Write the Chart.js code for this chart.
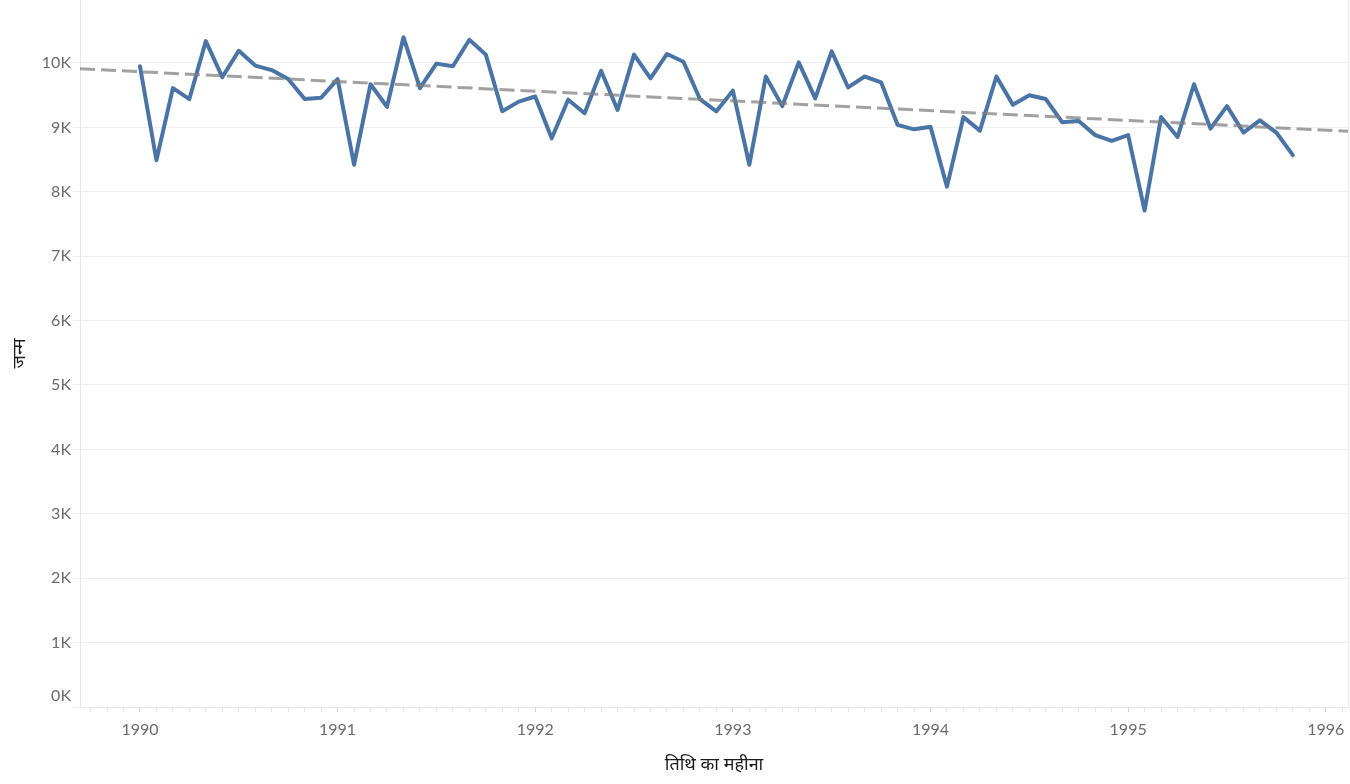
<!DOCTYPE html>
<html>
<head>
<meta charset="utf-8">
<script src="https://cdn.jsdelivr.net/npm/chart.js@4.4.1/dist/chart.umd.min.js"></script>
<style>
  html, body { margin: 0; padding: 0; background: #fff; overflow: hidden; }
  #myChart { display: block; }
</style>
</head>
<body>
<canvas id="myChart" width="1350" height="784" style="width:1350px;height:784px"></canvas>
<script>
// monthly births, Jan 1990 - Nov 1995
var startYear = 1990;
var births = [
    9950, 8490, 9610, 9440, 10340, 9780, 10190, 9960, 9890, 9750, 9440, 9460,
    9750, 8420, 9670, 9320, 10400, 9610, 9990, 9950, 10360, 10130, 9250, 9400,
    9480, 8830, 9430, 9220, 9880, 9270, 10130, 9760, 10140, 10020, 9440, 9250,
    9570, 8420, 9790, 9330, 10010, 9450, 10180, 9620, 9790, 9700, 9040, 8970,
    9010, 8080, 9160, 8950, 9790, 9350, 9500, 9440, 9080, 9100, 8880, 8790,
    8880, 7710, 9160, 8850, 9670, 8980, 9330, 8920, 9110, 8920, 8570
];
// trend line values at left and right edge of the axis
var trendValues = [9910, 8940];
var yearLabels = ['1990', '1991', '1992', '1993', '1994', '1995', '1996'];
var yTicks = [0, 1000, 2000, 3000, 4000, 5000, 6000, 7000, 8000, 9000, 10000];

var xMin = -3.64, xMax = 73.35;
var tickFont = { family: 'Lato, "Open Sans", sans-serif', size: 16 };
var titleFont = { family: '"Noto Sans", sans-serif', size: 18 };

var lineData = [];
for (var i = 0; i < births.length; i++) {
    lineData.push({ x: i, y: births[i] });
}
var trendData = [{ x: xMin, y: trendValues[0] }, { x: xMax, y: trendValues[1] }];

// right frame line + the bottom "0K" label, lifted above the axis like the original
var extras = {
    id: 'extras',
    afterDraw: function (chart) {
        var c = chart.ctx, a = chart.chartArea, ys = chart.scales.y;
        c.save();
        c.strokeStyle = '#e8e8e8';
        c.lineWidth = 1;
        c.beginPath();
        c.moveTo(a.right + 0.5, 0);
        c.lineTo(a.right + 0.5, a.bottom);
        c.stroke();
        c.fillStyle = '#6b6b6b';
        c.font = tickFont.size + 'px ' + tickFont.family;
        c.textAlign = 'right';
        c.textBaseline = 'middle';
        c.fillText('0K', ys.right - 9, ys.getPixelForValue(0) - 11);
        c.restore();
    }
};

var ctx = document.getElementById('myChart').getContext('2d');
var myChart = new Chart(ctx, {
    type: 'line',
    data: {
        datasets: [{
            label: 'trend',
            data: trendData,
            borderColor: 'rgba(125,125,125,0.72)',
            borderWidth: 3,
            borderDash: [15, 6],
            pointRadius: 0,
            order: 0
        }, {
            label: 'जन्म',
            data: lineData,
            borderColor: '#4b74a6',
            borderWidth: 4,
            borderJoinStyle: 'round',
            borderCapStyle: 'round',
            pointRadius: 0,
            tension: 0,
            order: 1
        }]
    },
    options: {
        responsive: false,
        animation: false,
        devicePixelRatio: 1,
        layout: { padding: { top: 0, right: 2, left: 0, bottom: 0 } },
        plugins: { legend: { display: false }, tooltip: { enabled: false } },
        scales: {
            x: {
                type: 'linear',
                min: xMin,
                max: xMax,
                afterBuildTicks: function (scale) {
                    var t = [];
                    for (var m = -3; m <= 73; m++) t.push({ value: m });
                    scale.ticks = t;
                },
                afterFit: function (scale) {
                    scale.height = 77;
                    scale.paddingLeft = 0;
                    scale.paddingRight = 0;
                },
                ticks: {
                    autoSkip: false,
                    maxRotation: 0,
                    padding: 8,
                    color: '#6b6b6b',
                    font: tickFont,
                    callback: function (v) {
                        if (v % 12 === 0) return yearLabels[v / 12];
                        return '';
                    }
                },
                grid: {
                    drawOnChartArea: false,
                    tickLength: 5,
                    tickColor: function (c) {
                        return c.tick && c.tick.value % 12 === 0 ? '#cfcfcf' : '#e6e6e6';
                    }
                },
                border: { color: '#e6e6e6' },
                title: {
                    display: true,
                    text: 'तिथि का महीना',
                    color: '#1a1a1a',
                    font: titleFont,
                    padding: { top: 0, bottom: 8 }
                }
            },
            y: {
                min: 0,
                max: 10978,
                afterBuildTicks: function (scale) {
                    scale.ticks = yTicks.map(function (v) { return { value: v }; });
                },
                afterFit: function (scale) {
                    scale.width = 80;
                    scale.paddingTop = 0;
                    scale.paddingBottom = 0;
                },
                ticks: {
                    padding: 2,
                    color: '#6b6b6b',
                    font: tickFont,
                    callback: function (v) { return v === 0 ? '' : (v / 1000) + 'K'; }
                },
                grid: { color: '#efefef', tickLength: 7 },
                border: { color: '#e6e6e6' },
                title: {
                    display: true,
                    text: 'जन्म',
                    color: '#1a1a1a',
                    font: titleFont,
                    padding: { top: 9, bottom: 0 }
                }
            }
        }
    },
    plugins: [extras]
});
</script>
</body>
</html>
